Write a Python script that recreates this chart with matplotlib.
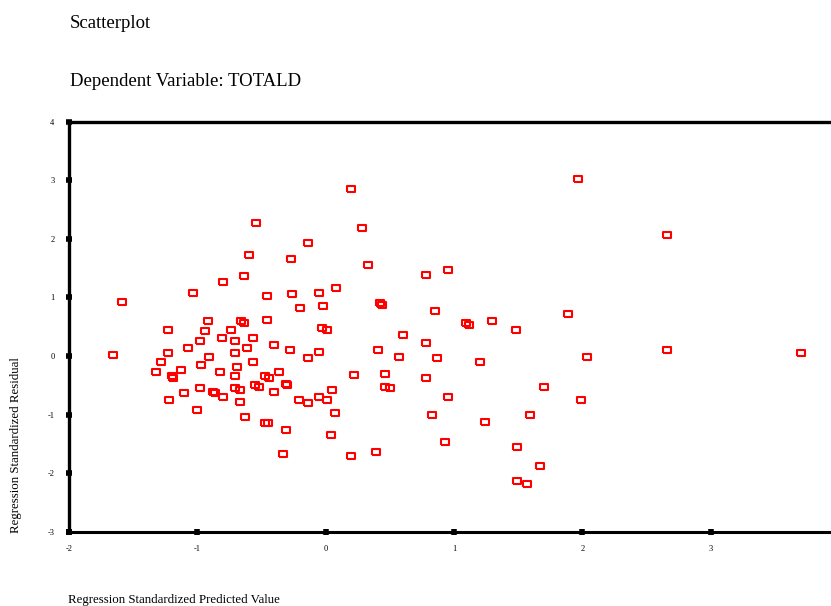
import matplotlib
matplotlib.use("Agg")
import matplotlib.pyplot as plt

# standardized predicted value vs standardized residual (one point per case)
pred_z = [
    -1.66, -1.59, -1.32, -1.28, -1.23, -1.23, -1.22, -1.20, -1.19, -1.13,
    -1.10, -1.07, -1.03, -1.00, -0.98, -0.98, -0.97, -0.94, -0.92, -0.91,
    -0.88, -0.86, -0.82, -0.80, -0.81, -0.80, -0.74, -0.71, -0.71, -0.71,
    -0.71, -0.69, -0.67, -0.67, -0.66, -0.64, -0.64, -0.63, -0.61, -0.60,
    -0.57, -0.57, -0.54, -0.55, -0.52, -0.46, -0.46, -0.47, -0.47, -0.45,
    -0.44, -0.40, -0.40, -0.36, -0.31, -0.33, -0.31, -0.30, -0.28, -0.27,
    -0.26, -0.21, -0.20, -0.14, -0.14, -0.14, -0.05, -0.05, -0.05, -0.02,
    -0.03, 0.01, 0.01, 0.04, 0.05, 0.07, 0.08, 0.20, 0.20, 0.22,
    0.28, 0.33, 0.39, 0.41, 0.42, 0.44, 0.46, 0.46, 0.50, 0.57,
    0.60, 0.78, 0.78, 0.78, 0.83, 0.85, 0.87, 0.93, 0.95, 0.95,
    1.09, 1.12, 1.20, 1.24, 1.30, 1.48, 1.49, 1.49, 1.57, 1.59,
    1.67, 1.70, 1.89, 1.97, 1.99, 2.04, 2.66, 2.66, 3.70,
]
resid_z = [
    0.02, 0.93, -0.27, -0.10, 0.45, 0.05, -0.75, -0.35, -0.38, -0.24,
    -0.64, 0.13, 1.07, -0.93, -0.55, 0.25, -0.15, 0.42, 0.59, -0.01,
    -0.61, -0.64, -0.27, 1.27, 0.30, -0.70, 0.45, 0.25, 0.05, -0.35,
    -0.55, -0.18, -0.58, -0.78, 0.59, 0.56, 1.36, -1.04, 0.13, 1.73,
    0.30, -0.10, 2.27, -0.50, -0.53, 1.02, 0.62, -0.35, -1.15, -1.15,
    -0.38, 0.19, -0.61, -0.27, -1.27, -1.67, -0.47, -0.50, 0.10, 1.65,
    1.05, -0.75, 0.82, -0.81, -0.04, 1.93, 1.07, 0.07, -0.70, 0.85,
    0.47, 0.45, -0.75, -1.35, -0.58, -0.98, 1.16, 2.85, -1.70, -0.33,
    2.19, 1.56, -1.64, 0.10, 0.90, 0.87, -0.53, -0.30, -0.55, -0.01,
    0.36, 1.39, 0.22, -0.38, -1.01, 0.76, -0.04, -1.47, 1.47, -0.70,
    0.56, 0.53, -0.10, -1.13, 0.59, 0.45, -1.55, -2.13, -2.18, -1.01,
    -1.87, -0.53, 0.71, 3.02, -0.75, -0.01, 2.07, 0.10, 0.05,
]
x_ticks = [-2, -1, 0, 1, 2, 3]
y_ticks = [-3, -2, -1, 0, 1, 2, 3, 4]

plt.rcParams["font.family"] = ["Liberation Serif", "DejaVu Serif"]

W, H = 831, 606
fig = plt.figure(figsize=(W / 100, H / 100), dpi=100)
ax = fig.add_axes([69 / W, 74.3 / H, 770 / W, 410 / H])

# slightly wide open squares, as SPSS draws them
box = [(-1.25, -1), (1.25, -1), (1.25, 1), (-1.25, 1), (-1.25, -1)]
ax.plot(pred_z, resid_z, ls="none", marker=box, ms=5.2, mfc="none",
        mec="#ff0000", mew=1.5)

ax.set_xlim(-2, 4)
ax.set_ylim(-3, 4)
ax.set_xticks(x_ticks)
ax.set_yticks(y_ticks)
ax.set_xticklabels([str(t) for t in x_ticks], fontsize=6)
ax.set_yticklabels([str(t) for t in y_ticks], fontsize=6)
ax.tick_params(direction="inout", length=5, width=4, color="black")
ax.tick_params(axis="x", pad=7)
ax.tick_params(axis="y", pad=8)
for side in ("left", "top"):
    ax.spines[side].set_linewidth(2.4)
ax.spines["bottom"].set_linewidth(2.2)
ax.spines["right"].set_visible(False)

fig.text(70 / W, 1 - 24 / H, "Scatterplot", fontsize=13.5, va="center")
fig.text(70 / W, 1 - 81 / H, "Dependent Variable: TOTALD", fontsize=13.5, va="center")
fig.text(16 / W, 1 - 533 / H, "Regression Standardized Residual", fontsize=9.3,
         rotation=90, ha="center", va="bottom")
fig.text(68 / W, 1 - 600 / H, "Regression Standardized Predicted Value", fontsize=9.3,
         va="center")

fig.savefig("out.png", dpi=100)
